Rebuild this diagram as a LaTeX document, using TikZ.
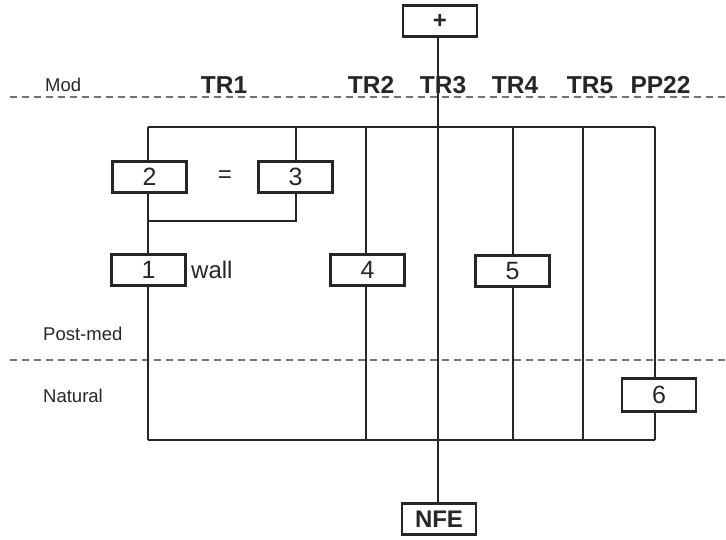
\documentclass[tikz,border=0pt]{standalone}
\usepackage{fontspec}
\setmainfont{Liberation Sans}
\begin{document}
\begin{tikzpicture}[x=1pt,y=-1pt,
  numbox/.style={draw=black!85, line width=2.3pt, rectangle, minimum width=74pt, minimum height=31pt, inner sep=0pt, font=\fontsize{25}{25}\selectfont, text=black!85},
  topbox/.style={numbox, font=\bfseries\fontsize{24}{24}\selectfont},
  trlabel/.style={anchor=base, font=\bfseries\fontsize{24.5}{24.5}\selectfont, text=black!85, inner sep=0pt},
  sidelabel/.style={anchor=base west, font=\fontsize{18.5}{18.5}\selectfont, text=black!85, inner sep=0pt},
  conn/.style={draw=black!85, line width=1.3pt},
  phase/.style={draw=black!55, line width=1.1pt, dash pattern=on 7pt off 5pt}
]
\useasboundingbox (0,0) rectangle (726,539);

% phase boundaries
\coordinate (m1) at (10,97);
\coordinate (m2) at (726,97);
\coordinate (p1) at (10,360);
\coordinate (p2) at (726,360);
\draw[phase] (m1) -- (m2);
\draw[phase] (p1) -- (p2);

% side labels
\node[sidelabel] (mod) at (45,91) {Mod};
\node[sidelabel] (post) at (43,340) {Post-med};
\node[sidelabel] (nat) at (43,402) {Natural};

% column labels
\node[trlabel] (tr1) at (224,93) {TR1};
\node[trlabel] (tr2) at (371,93) {TR2};
\node[trlabel] (tr3) at (443,93) {TR3};
\node[trlabel] (tr4) at (515,93) {TR4};
\node[trlabel] (tr5) at (590,93) {TR5};
\node[trlabel] (pp22) at (660.5,93) {PP22};

% boxes
\node[topbox] (plus) at (440,21) {+};
\node[topbox] (nfe) at (439,519) {NFE};
\node[numbox] (b2) at (149.5,177) {2};
\node[numbox] (b3) at (295.5,177) {3};
\node[numbox] (b1) at (148.5,270) {1};
\node[numbox] (b4) at (367.5,270) {4};
\node[numbox] (b5) at (512.5,271) {5};
\node[numbox, minimum height=33pt] (b6) at (659,395) {6};
\node[font=\fontsize{24}{24}\selectfont, text=black!85, inner sep=0pt] (eq) at (225,177) {=};
\node[anchor=base west, font=\fontsize{24}{24}\selectfont, text=black!85, inner sep=0pt] (wall) at (191,278) {wall};

% frame coordinates
\coordinate (t1) at (148,127);
\coordinate (t3) at (296,127);
\coordinate (t2) at (366,127);
\coordinate (t4) at (513,127);
\coordinate (t5) at (583,127);
\coordinate (t6) at (655,127);
\coordinate (u1) at (148,440);
\coordinate (u2) at (366,440);
\coordinate (u4) at (513,440);
\coordinate (u5) at (583,440);
\coordinate (u6) at (655,440);
\coordinate (j3) at (296,221);
\coordinate (j1) at (148,221);

% frame
\draw[conn] (t1) -- (t6);
\draw[conn] (u1) -- (u6);
% TR1
\draw[conn] (t1) -- (t1 |- b2.north);
\draw[conn] (t1 |- b2.south) -- (t1 |- b1.north);
\draw[conn] (t1 |- b1.south) -- (u1);
% 3 branch
\draw[conn] (t3) -- (t3 |- b3.north);
\draw[conn] (t3 |- b3.south) -- (j3) -- (j1);
% TR2
\draw[conn] (t2) -- (t2 |- b4.north);
\draw[conn] (t2 |- b4.south) -- (u2);
% TR3
\draw[conn] (plus.south -| 438,0) -- (nfe.north -| 438,0);
% TR4
\draw[conn] (t4) -- (t4 |- b5.north);
\draw[conn] (t4 |- b5.south) -- (u4);
% TR5
\draw[conn] (t5) -- (u5);
% PP22
\draw[conn] (t6) -- (t6 |- b6.north);
\draw[conn] (t6 |- b6.south) -- (u6);
\end{tikzpicture}
\end{document}
